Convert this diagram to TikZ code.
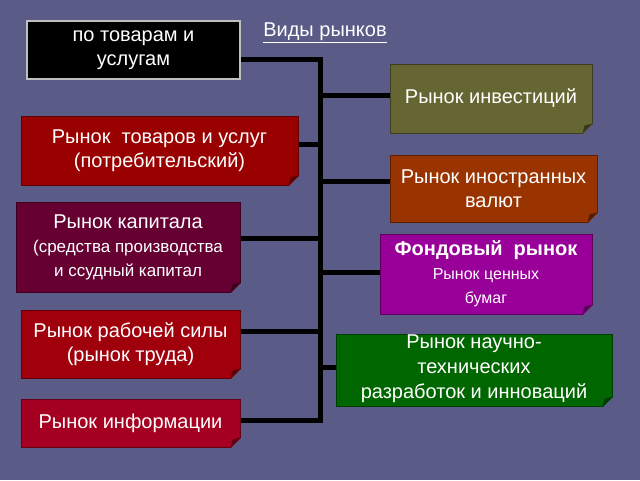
\documentclass[tikz,border=0pt]{standalone}
\usepackage{fontspec}
\setmainfont{Liberation Sans}
\usepackage{tikz}
\usetikzlibrary{calc}

\definecolor{bgcol}{HTML}{5B5B88}
\definecolor{goodsred}{HTML}{990000}
\definecolor{capitalred}{HTML}{660033}
\definecolor{labourred}{HTML}{A0000C}
\definecolor{infored}{HTML}{A50021}
\definecolor{investolive}{HTML}{666633}
\definecolor{currencybrown}{HTML}{993300}
\definecolor{stockpurple}{HTML}{990099}
\definecolor{innovgreen}{HTML}{006600}

% folded corner at south east of a box
\newcommand{\foldcorner}[2]{%
  \fill[bgcol] ($(#1.south east)+(-10,1)$) -- ($(#1.south east)+(1,1)$) -- ($(#1.south east)+(1,-10)$) -- cycle;
  \fill[#2!55!black] ($(#1.south east)+(-10,0)$) -- ($(#1.south east)+(0,-10)$) -- ($(#1.south east)+(-8,-8)$) -- cycle;}

\begin{document}
\begin{tikzpicture}[x=1pt,y=-1pt,
                    box/.style={draw=#1!60!black,fill=#1,line width=1pt,inner sep=0pt,
                      text=white,align=center,font=\fontsize{20}{24}\selectfont},
                    link/.style={line width=5pt,black}]
 \useasboundingbox[fill=bgcol] (0,0) rectangle (640,480);

 \node[box=black,draw=gray!50,line width=2pt,minimum width=213,minimum height=58] (b1) at (133.5,50) {по товарам и\\услугам};
 \node[box=goodsred,minimum width=277,minimum height=69] (b2) at (159.5,150.5) {Рынок\ \ товаров и услуг\\(потребительский)};
 \node[box=capitalred,minimum width=224,minimum height=90] (b3) at (128,247)
   {Рынок капитала\\\fontsize{17}{22}\selectfont (средства производства\\\fontsize{17}{22}\selectfont и ссудный капитал};
 \node[box=labourred,minimum width=219,minimum height=68] (b4) at (130.5,344) {Рынок рабочей силы\\(рынок труда)};
 \node[box=infored,minimum width=219,minimum height=48] (b5) at (130.5,423) {Рынок информации};

 \node[box=investolive,minimum width=202,minimum height=69] (b6) at (491,98.5) {Рынок инвестиций};
 \node[box=currencybrown,minimum width=207,minimum height=67] (b7) at (493.5,188.5) {Рынок иностранных\\валют};
 \node[box=stockpurple,minimum width=212,minimum height=80] (b8) at (486,274)
   {\textbf{Фондовый\ \ рынок}\\\fontsize{16}{24}\selectfont Рынок ценных\\\fontsize{16}{24}\selectfont бумаг};
 \node[box=innovgreen,minimum width=276,minimum height=69,text depth=8pt,
       font=\fontsize{20}{25}\selectfont] (b9) at (474,370.5) {Рынок научно-\\технических\\разработок и инноваций};

 \node[text=white,font=\fontsize{20}{22}\selectfont] (title) at (325,33) {\underline{Виды рынков}};

 \foldcorner{b2}{goodsred}
 \foldcorner{b3}{capitalred}
 \foldcorner{b4}{labourred}
 \foldcorner{b5}{infored}
 \foldcorner{b6}{investolive}
 \foldcorner{b7}{currencybrown}
 \foldcorner{b8}{stockpurple}
 \foldcorner{b9}{innovgreen}

 \coordinate (j1) at (320,59);
 \coordinate (j2) at (320,144);
 \coordinate (j3) at (320,238);
 \coordinate (j4) at (320,331);
 \coordinate (j5) at (320,420);
 \coordinate (j6) at (320,95);
 \coordinate (j7) at (320,181);
 \coordinate (j8) at (320,272);
 \coordinate (j9) at (320,367);

 \draw[link] (b1.east |- j1) -- (j1) -- (j5) -- (b5.east |- j5);
 \draw[link] (j2) -- (b2.east |- j2);
 \draw[link] (j3) -- (b3.east |- j3);
 \draw[link] (j4) -- (b4.east |- j4);
 \draw[link] (j6) -- (b6.west |- j6);
 \draw[link] (j7) -- (b7.west |- j7);
 \draw[link] (j8) -- (b8.west |- j8);
 \draw[link] (j9) -- (b9.west |- j9);
\end{tikzpicture}
\end{document}
